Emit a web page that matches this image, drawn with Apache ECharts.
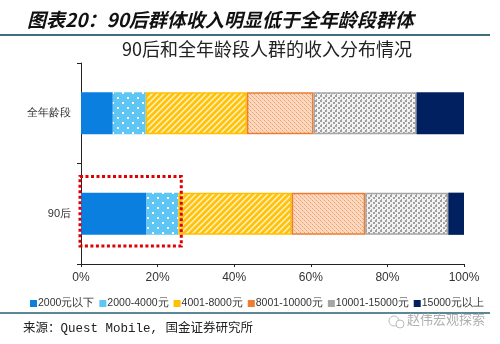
<!DOCTYPE html>
<html>
<head>
<meta charset="utf-8">
<script src="https://cdn.jsdelivr.net/npm/echarts@6/dist/echarts.min.js"></script>
<style>
html,body{margin:0;padding:0;background:#fff;}
#chart{width:500px;height:344px;}
</style>
</head>
<body>
<div id="chart"></div>
<script>
// Income distribution: share of each income band (%)
const categories = ['90后', '全年龄段'];
const seriesNames = ['2000元以下', '2000-4000元', '4001-8000元', '8001-10000元', '10001-15000元', '15000元以上'];
const band2000Below   = [17.1, 8.3];
const band2000to4000  = [8.3, 8.6];
const band4001to8000  = [29.6, 26.4];
const band8001to10000 = [19.2, 17.4];
const band10001to15000 = [21.7, 26.9];
const band15000Above  = [4.1, 12.4];
const xTicks = [0, 20, 40, 60, 80, 100];

function tile(w, h, draw) {
  const c = document.createElement('canvas');
  c.width = w; c.height = h;
  draw(c.getContext('2d'));
  return { image: c, repeat: 'repeat' };
}
const dotsBlue = tile(10, 10, g => {
  g.fillStyle = '#5ec6f4'; g.fillRect(0, 0, 10, 10);
  g.fillStyle = '#ffffff'; g.fillRect(2, 2, 2, 2); g.fillRect(7, 7, 2, 2);
});
const stripesYellow = tile(6, 6, g => {
  g.fillStyle = '#ffc20e'; g.fillRect(0, 0, 6, 6);
  g.strokeStyle = '#fff4c8'; g.lineWidth = 1.4;
  g.beginPath();
  g.moveTo(-1, 7); g.lineTo(7, -1);
  g.moveTo(-4, 4); g.lineTo(4, -4);
  g.moveTo(2, 10); g.lineTo(10, 2);
  g.stroke();
});
const hatchOrange = tile(4, 4, g => {
  g.fillStyle = '#fbd9c0'; g.fillRect(0, 0, 4, 4);
  g.fillStyle = '#f0a06a'; g.fillRect(0, 0, 1, 1); g.fillRect(2, 2, 1, 1);
  g.fillStyle = '#f6bd96'; g.fillRect(1, 1, 1, 1); g.fillRect(3, 3, 1, 1);
});
const dotsGray = tile(5, 5, g => {
  g.fillStyle = '#f2f2f2'; g.fillRect(0, 0, 5, 5);
  g.fillStyle = '#a0a0a0'; g.fillRect(0, 0, 2, 2); g.fillRect(3, 2, 2, 2); g.fillRect(1, 4, 1, 1);
});

const seriesData = [band2000Below, band2000to4000, band4001to8000, band8001to10000, band10001to15000, band15000Above];
const fills = ['#0a7fe0', dotsBlue, stripesYellow, hatchOrange, dotsGray, '#002060'];
const borders = [null, null, '#ffc000', '#ed7d31', '#a5a5a5', null];
const legendColors = ['#0a7fe0', '#5ec6f4', '#ffc000', '#ed7d31', '#a5a5a5', '#002060'];

const chart = echarts.init(document.getElementById('chart'));

const series = seriesData.map((d, i) => ({
  name: seriesNames[i],
  type: 'bar',
  stack: 'total',
  barWidth: '42%',
  data: d,
  itemStyle: {
    color: fills[i],
    borderColor: borders[i] || 'transparent',
    borderWidth: borders[i] ? 1.5 : 0
  },
  emphasis: { disabled: true }
}));

chart.setOption({
  animation: false,
  title: [{
    text: '图表20：90后群体收入明显低于全年龄段群体',
    left: 22, top: 5,
    textStyle: { fontSize: 19, fontStyle: 'italic', fontWeight: 'bold', color: '#111', fontFamily: 'Noto Sans CJK SC' }
  }, {
    text: '90后和全年龄段人群的收入分布情况',
    left: 122, top: 40,
    textStyle: { fontSize: 18, fontWeight: 'normal', color: '#222', fontFamily: 'Noto Sans CJK SC' },
    padding: 0
  }],
  legend: {
    data: seriesNames.map((n, i) => ({ name: n, itemStyle: { color: legendColors[i], borderWidth: 0 } })),
    left: 30, top: 298, width: 480, padding: 0,
    itemWidth: 7, itemHeight: 7, itemGap: 5,
    icon: 'rect',
    textStyle: { fontSize: 10.5, color: '#333', padding: [0, 0, 0, -4] }
  },
  grid: { left: 81, right: 36, top: 63, bottom: 80 },
  xAxis: {
    type: 'value', min: 0, max: 100, interval: 20,
    axisLine: { show: true, lineStyle: { color: '#222' } },
    axisTick: { show: true, length: 3, lineStyle: { color: '#222' } },
    splitLine: { show: false },
    axisLabel: { formatter: v => xTicks.includes(v) ? v + '%' : '', fontSize: 12, color: '#333', margin: 8 }
  },
  yAxis: {
    type: 'category', data: categories,
    axisLine: { show: true, lineStyle: { color: '#222' } },
    axisTick: { show: true, length: 4, lineStyle: { color: '#222' } },
    axisLabel: { fontSize: 11, color: '#333', margin: 10 }
  },
  series: series
});

// Annotation: dashed frame around the low-income part of the 90后 bar
const lowShare = band2000Below[0] + band2000to4000[0];
const p0 = chart.convertToPixel({ gridIndex: 0 }, [0, 0]);
const p1 = chart.convertToPixel({ gridIndex: 0 }, [lowShare, 0]);
const pTop = chart.convertToPixel({ gridIndex: 0 }, [0, 1]);
const bandH = Math.abs(p0[1] - pTop[1]);

chart.setOption({
  graphic: [{
    type: 'rect',
    shape: { x: p0[0] - 1, y: p0[1] - bandH * 0.37, width: p1[0] - p0[0] + 4, height: bandH * 0.69 },
    style: { fill: 'none', stroke: '#e00000', lineWidth: 3, lineDash: [3, 2.5] },
    z: 10
  }, {
    type: 'line', shape: { x1: 0, y1: 35, x2: 490, y2: 35 },
    style: { stroke: '#3e6f80', lineWidth: 2 }
  }, {
    type: 'line', shape: { x1: 0, y1: 313, x2: 490, y2: 313 },
    style: { stroke: '#5d8795', lineWidth: 2 }
  }, {
    type: 'text', left: 23, top: 322,
    style: { text: '来源：Quest Mobile, 国金证券研究所', fontSize: 12.5, fill: '#222', fontFamily: 'Liberation Mono, Noto Sans CJK SC' }
  }, {
    type: 'circle', shape: { cx: 394, cy: 321, r: 5 },
    style: { fill: 'none', stroke: '#bbb', lineWidth: 1 }
  }, {
    type: 'circle', shape: { cx: 400, cy: 324, r: 4 },
    style: { fill: '#fff', stroke: '#bbb', lineWidth: 1 }
  }, {
    type: 'text', left: 407, top: 313,
    style: { text: '赵伟宏观探索', fontSize: 13, fill: '#b0b0b0', fontFamily: 'Noto Sans CJK SC' }
  }]
});
</script>
</body>
</html>
